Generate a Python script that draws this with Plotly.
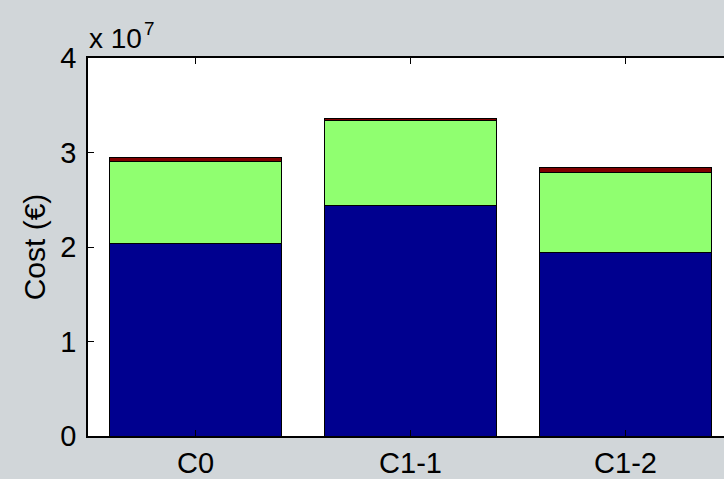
import plotly.graph_objects as go

# Cost breakdown per configuration (values in euros)
categories = ["C0", "C1-1", "C1-2"]
positions = [1, 2, 3]
base_cost = [2.04e7, 2.44e7, 1.94e7]
mid_cost = [0.86e7, 0.90e7, 0.85e7]
top_cost = [0.05e7, 0.025e7, 0.047e7]
y_ticks = [0, 1e7, 2e7, 3e7, 4e7]
y_tick_text = ["0", "1", "2", "3", "4"]

segments = [
    (base_cost, "#00008F"),
    (mid_cost, "#90FF70"),
    (top_cost, "#800000"),
]

fig = go.Figure()
for vals, color in segments:
    fig.add_trace(go.Bar(
        x=positions, y=vals, width=0.8,
        marker=dict(color=color, line=dict(color="black", width=1)),
        showlegend=False,
    ))

font = "Liberation Sans, Arial, sans-serif"
fig.update_layout(
    barmode="stack",
    width=724, height=479,
    margin=dict(l=88, r=0, t=58, b=43),
    paper_bgcolor="#D1D6D9",
    plot_bgcolor="white",
    font=dict(family=font, size=29, color="black"),
    xaxis=dict(
        range=[0.5, 0.5 + 636 / 215],
        tickvals=positions, ticktext=categories,
        ticks="inside", ticklen=6, tickcolor="black",
        showline=True, linecolor="black", linewidth=1.5,
        mirror="ticks", showgrid=False, zeroline=False,
        tickfont=dict(size=29),
    ),
    yaxis=dict(
        range=[0, 4e7],
        tickvals=y_ticks, ticktext=y_tick_text,
        ticks="inside", ticklen=6, tickcolor="black",
        showline=True, linecolor="black", linewidth=1.5,
        showgrid=False, zeroline=False,
        ticklabelstandoff=4,
        tickfont=dict(size=29),
        title=dict(text="Cost (€)", font=dict(size=30), standoff=6),
    ),
    annotations=[
        # axis multiplier "x 10^7" above the top-left corner
        dict(text="x 10", xref="paper", yref="paper",
             x=0, y=1, xanchor="left", yanchor="bottom", xshift=-1, yshift=2,
             showarrow=False, font=dict(size=28)),
        dict(text="7", xref="paper", yref="paper",
             x=0, y=1, xanchor="left", yanchor="bottom", xshift=54, yshift=17,
             showarrow=False, font=dict(size=19)),
    ],
)

fig.write_html("out.html")
